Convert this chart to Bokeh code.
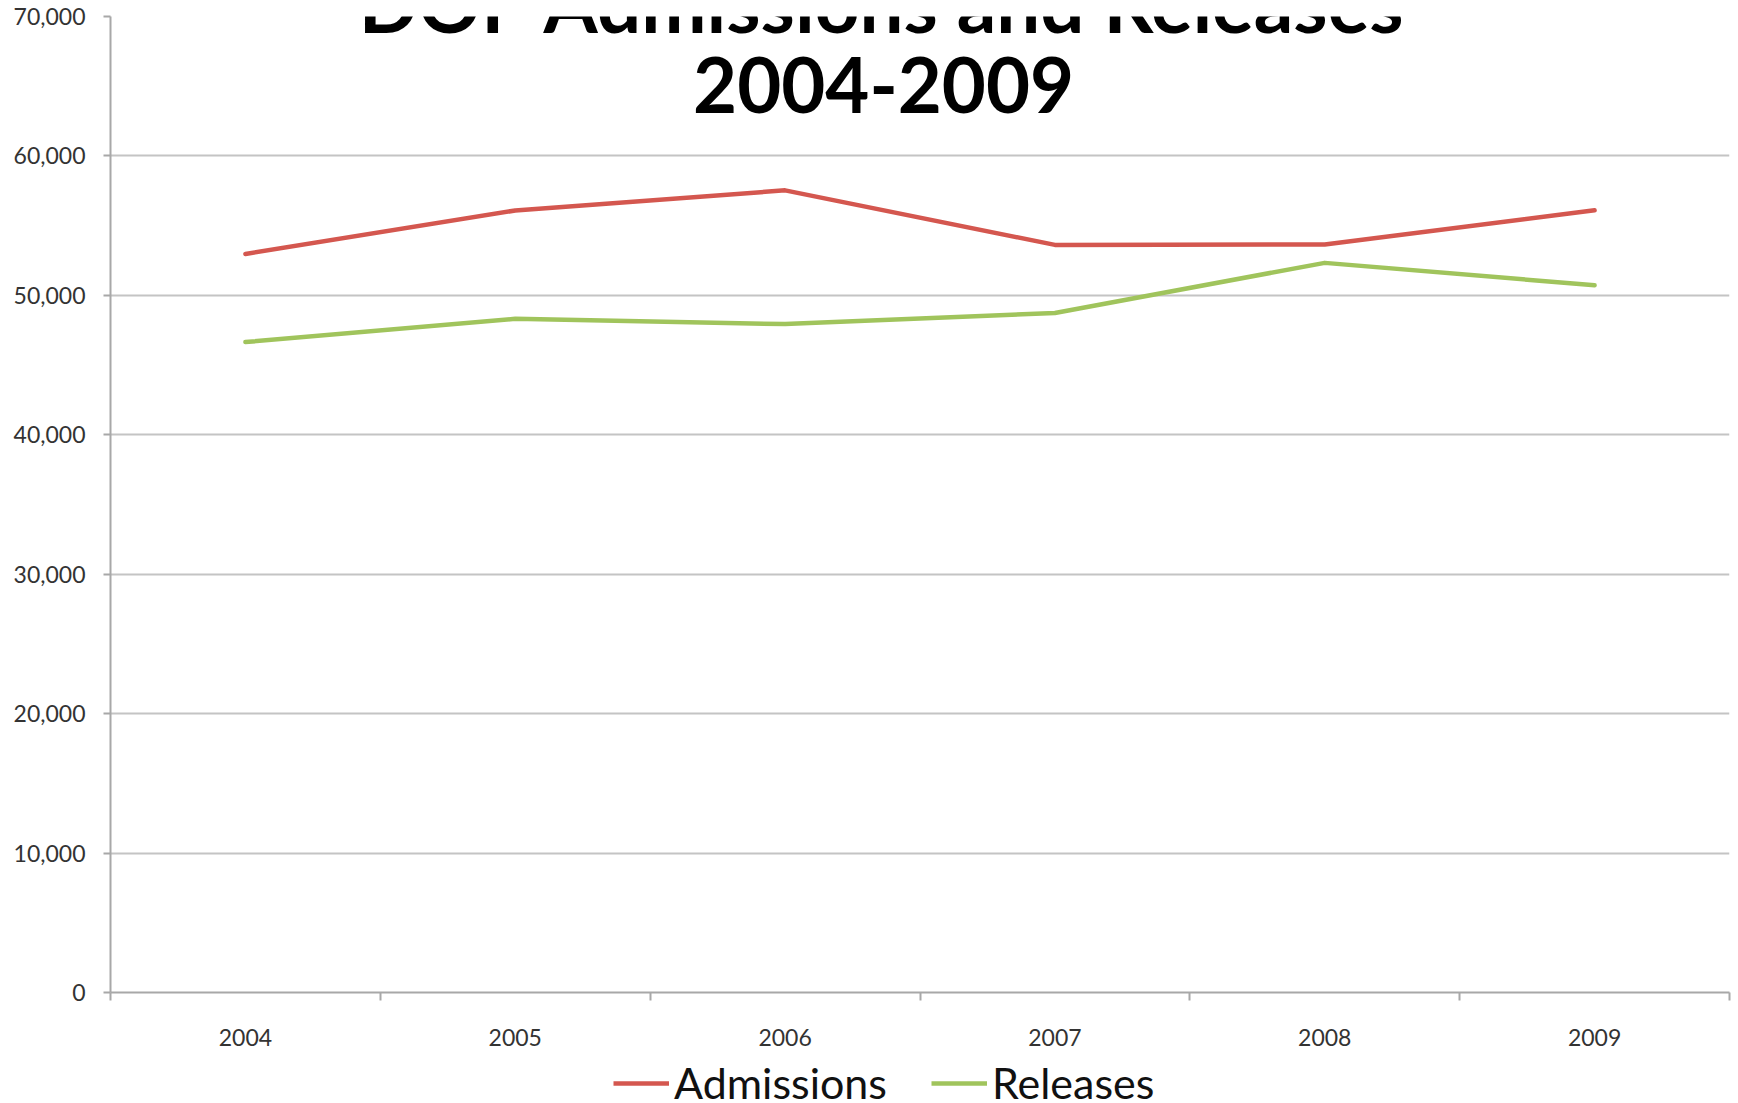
from bokeh.plotting import figure
from bokeh.layouts import column
from bokeh.models import (Range1d, LinearAxis, FixedTicker, ColumnDataSource,
                          NumeralTickFormatter, Legend, LegendItem, Label)
from bokeh.embed import file_html
from bokeh.resources import INLINE

# ---- data ----
years = ["2004", "2005", "2006", "2007", "2008", "2009"]
admissions = [52970, 56090, 57530, 53620, 53650, 56100]
releases = [46650, 48320, 47940, 48740, 52330, 50720]
y_ticks = [0, 10000, 20000, 30000, 40000, 50000, 60000, 70000]
series_names = ["Admissions", "Releases"]
title_line1 = "DOP Admissions and Releases"
title_line2 = "2004-2009"

FONT = "Lato"
GRID = "#c4c4c4"
AXIS = "#a8a8a8"
RED = "#d4574f"
GREEN = "#a0c45c"
LW = 4.5

# category slots: each year occupies one band; the point sits in the band's middle
n = len(years)
centers = [i + 0.5 for i in range(n)]
edges = list(range(n + 1))

src = ColumnDataSource(dict(x=centers, adm=admissions, rel=releases))

p = figure(x_range=Range1d(0, n), y_range=Range1d(0, 70000),
           width=1738, height=1055, output_backend="svg", toolbar_location=None,
           x_axis_location=None, y_axis_location=None,
           min_border_left=110, min_border_right=9, min_border_top=16, min_border_bottom=63)
p.outline_line_color = None
p.background_fill_color = "white"
p.border_fill_color = "white"

# y axis
yax = LinearAxis(ticker=FixedTicker(ticks=y_ticks), formatter=NumeralTickFormatter(format="0,0"))
yax.axis_line_color = AXIS
yax.axis_line_width = 2
yax.major_tick_line_color = AXIS
yax.major_tick_line_width = 2
yax.major_tick_out = 7
yax.major_tick_in = 0
yax.minor_tick_line_color = None
yax.major_label_text_font = FONT
yax.major_label_text_font_size = "23px"
yax.major_label_text_color = "#333333"
yax.major_label_standoff = 18
p.add_layout(yax, "left")

# x boundary ticks (no labels)
xtick = LinearAxis(ticker=FixedTicker(ticks=edges),
                   major_label_overrides={e: "" for e in edges})
xtick.axis_line_color = AXIS
xtick.axis_line_width = 2
xtick.major_tick_line_color = AXIS
xtick.major_tick_line_width = 2
xtick.major_tick_out = 8
xtick.major_tick_in = 0
xtick.minor_tick_line_color = None
xtick.major_label_text_font_size = "1px"
xtick.major_label_standoff = 0
p.add_layout(xtick, "below")

# x category labels
xlab = LinearAxis(ticker=FixedTicker(ticks=centers),
                  major_label_overrides={c: y for c, y in zip(centers, years)})
xlab.axis_line_color = None
xlab.major_tick_line_color = None
xlab.minor_tick_line_color = None
xlab.major_label_text_font = FONT
xlab.major_label_text_font_size = "23px"
xlab.major_label_text_color = "#333333"
xlab.major_label_standoff = 22
p.add_layout(xlab, "below")

p.xgrid.grid_line_color = None
p.ygrid.ticker = FixedTicker(ticks=y_ticks)
p.ygrid.grid_line_color = GRID
p.ygrid.grid_line_width = 2

p.line("x", "adm", source=src, line_color=RED, line_width=LW, line_cap="round", line_join="round")
p.line("x", "rel", source=src, line_color=GREEN, line_width=LW, line_cap="round", line_join="round")

t1 = Label(x=2.865, y=70000, y_offset=14, text=title_line1, text_font=FONT, text_font_style="bold",
           text_font_size="78px", text_align="center", text_baseline="alphabetic", text_color="black")
t2 = Label(x=2.865, y=65120, text=title_line2, text_font=FONT, text_font_style="bold",
           text_font_size="76px", text_align="center", text_baseline="alphabetic", text_color="black")
p.add_layout(t1)
p.add_layout(t2)

# ---- legend strip below the chart ----
lf = figure(x_range=Range1d(0, 1), y_range=Range1d(0, 1), width=1738, height=48,
            output_backend="svg", toolbar_location=None,
            x_axis_location=None, y_axis_location=None,
            min_border_left=0, min_border_right=0, min_border_top=0, min_border_bottom=0)
lf.outline_line_color = None
lf.xgrid.visible = False
lf.ygrid.visible = False
lf.border_fill_color = "white"
# legend keys reuse the series (far outside this strip's range, so only the keys show)
k1 = lf.line("x", "adm", source=src, line_color=RED, line_width=LW)
k2 = lf.line("x", "rel", source=src, line_color=GREEN, line_width=LW)

legend = Legend(items=[LegendItem(label=series_names[0], renderers=[k1]),
                       LegendItem(label=series_names[1], renderers=[k2])],
                orientation="horizontal", location=(503, -5))
legend.label_text_font = FONT
legend.label_text_font_size = "43px"
legend.label_text_color = "#111111"
legend.glyph_width = 56
legend.glyph_height = 44
legend.label_height = 44
legend.label_standoff = 5
legend.spacing = 44
legend.padding = 0
legend.margin = 0
legend.border_line_color = None
legend.background_fill_alpha = 0
lf.add_layout(legend, "center")

layout = column(p, lf, spacing=0)
open("out.html", "w").write(file_html(layout, INLINE))
